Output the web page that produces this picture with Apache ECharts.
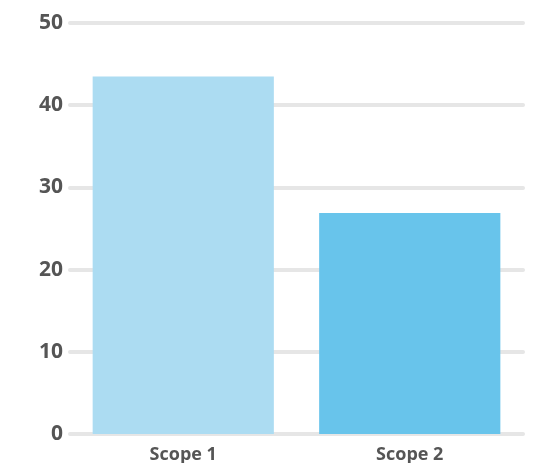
<!DOCTYPE html>
<html>
<head>
<meta charset="utf-8">
<script src="https://cdn.jsdelivr.net/npm/echarts@6/dist/echarts.min.js"></script>
<style>html,body{margin:0;padding:0;background:#fff}#c{width:540px;height:463px}</style>
</head>
<body>
<div id="c"></div>
<script>
const categories = ['Scope 1', 'Scope 2'];
const values = [43.5, 26.9];
const barColors = ['#acdcf2', '#68c4eb'];
const yMin = 0, yMax = 50, yInterval = 10;

const chart = echarts.init(document.getElementById('c'), null, {renderer: 'canvas'});
chart.setOption({
  animation: false,
  grid: {left: 70, right: 17, top: 23, bottom: 29, containLabel: false, outerBoundsMode: 'none'},
  xAxis: {
    type: 'category',
    data: categories,
    axisLine: {show: false},
    axisTick: {show: false},
    axisLabel: {color: '#555', fontFamily: 'Open Sans', fontWeight: 'bold', fontSize: 18, margin: 12}
  },
  yAxis: {
    type: 'value',
    min: yMin, max: yMax, interval: yInterval,
    axisLine: {show: false},
    axisTick: {show: false},
    axisLabel: {color: '#555', fontFamily: 'Open Sans', fontWeight: 'bold', fontSize: 21, margin: 7},
    splitLine: {show: true, lineStyle: {color: '#e6e6e6', width: 4, cap: 'round'}}
  },
  series: [{
    type: 'bar',
    data: values.map((v, i) => ({value: v, itemStyle: {color: barColors[i]}})),
    barCategoryGap: '20%'
  }]
});
</script>
</body>
</html>
